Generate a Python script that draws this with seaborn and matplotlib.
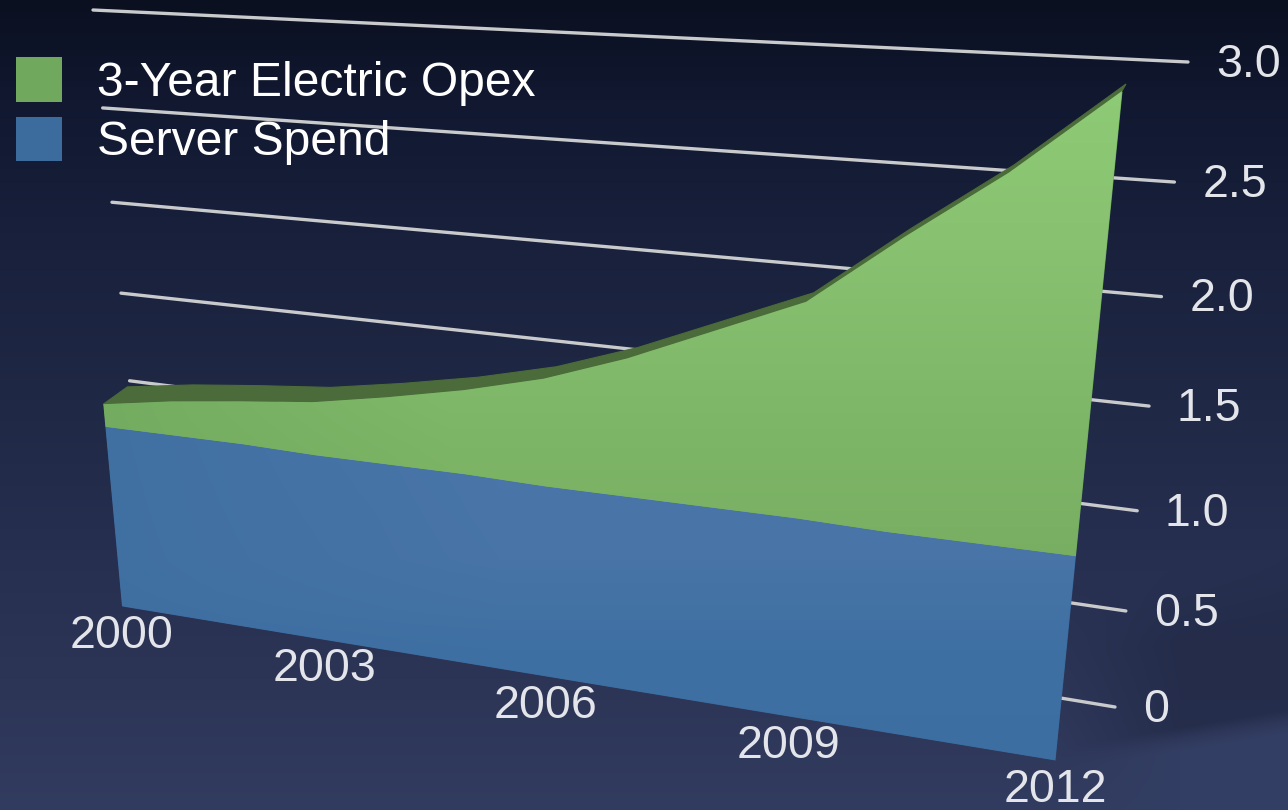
import numpy as np
import pandas as pd
import matplotlib
matplotlib.use("Agg")
import matplotlib.pyplot as plt
import matplotlib.colors as mcolors
import matplotlib.transforms as mtransforms
import seaborn as sns

# =====================
# Data
# =====================
years = [2000, 2001, 2002, 2003, 2004, 2005, 2006, 2007, 2008, 2009, 2010, 2011, 2012]
server_spend = [1.03, 1.03, 1.03, 1.02, 1.02, 1.02, 1.01, 1.01, 1.01, 1.01, 1.00, 1.00, 1.00]
electric_opex = [0.125, 0.185, 0.23, 0.28, 0.35, 0.43, 0.54, 0.68, 0.85, 1.02, 1.35, 1.65, 2.00]
value_ticks = [0, 0.5, 1.0, 1.5, 2.0, 2.5, 3.0]
value_labels = ["0", "0.5", "1.0", "1.5", "2.0", "2.5", "3.0"]
year_ticks = [2000, 2003, 2006, 2009, 2012]
year_labels = ["2000", "2003", "2006", "2009", "2012"]
series_names = ["3-Year Electric Opex", "Server Spend"]

W, H = 1288, 810


# Perspective: maps (year, value) onto image pixels, corners given as
# (2000, 0), (2012, 0), (2012, 3), (2000, 3)
class Perspective(mtransforms.Transform):
    input_dims = 2
    output_dims = 2
    is_affine = False
    has_inverse = False

    def __init__(self, corners):
        super().__init__()
        src = [(2000, 0), (2012, 0), (2012, 3), (2000, 3)]
        rows, rhs = [], []
        for (x, y), (u, v) in zip(src, corners):
            rows.append([x, y, 1, 0, 0, 0, -u * x, -u * y])
            rows.append([0, 0, 0, x, y, 1, -v * x, -v * y])
            rhs += [u, v]
        rows = np.array(rows, dtype=float)
        self.m = np.append(np.linalg.solve(rows, np.array(rhs, dtype=float)), 1).reshape(3, 3)

    def transform_non_affine(self, values):
        values = np.asarray(values, dtype=float)
        p = np.column_stack([values, np.ones(len(values))]) @ self.m.T
        return p[:, :2] / p[:, 2:]


front = Perspective([(122, 606), (1055, 760), (1122, 91), (70, 45)])
back = Perspective([(146, 588), (1055, 754), (1126, 84), (94, 27)])
wall = Perspective([(146, 547), (1115, 707), (1188, 62), (93, 10)])


def vertical_ramp(stops):
    ys = [s[0] for s in stops]
    cols = np.array([mcolors.to_rgb(s[1]) for s in stops])
    yy = np.arange(H) + 0.5
    return np.stack([np.interp(yy, ys, cols[:, i]) for i in range(3)], axis=-1)


def shade_left(ramp, colour, x_end):
    # ramp over the whole picture, pulled towards a flatter colour on the left
    img = np.repeat(ramp[:, None, :], W, axis=1)
    t = np.clip(1 - np.arange(W) / x_end, 0, 1)[None, :, None]
    return img * (1 - t) + np.array(mcolors.to_rgb(colour)) * t


# =====================
# Figure
# =====================
sns.set_theme(style="dark")
plt.rcParams["font.family"] = ["Liberation Sans", "DejaVu Sans"]

fig = plt.figure(figsize=(W / 100, H / 100), dpi=100)
ax = fig.add_axes([0, 0, 1, 1])
ax.set_axis_off()

# background, with the darker strip and lighter floor at lower right
bg = vertical_ramp([(0, "#0b1020"), (100, "#111830"), (250, "#19213d"), (400, "#1f2844"),
                    (550, "#262f50"), (700, "#2d3657"), (810, "#323c60")])
bg = np.repeat(bg[:, None, :], W, axis=1)
xx, yy = np.meshgrid(np.arange(W), np.arange(H))
edge = 760 - 0.17 * (xx - 1055)
fade = np.clip((xx - 1060) / 120, 0, 1)
dark = np.clip((yy - (edge - 170)) / 70, 0, 1) * np.clip((edge - yy) / 12, 0, 1) * fade
floor = np.clip((yy - edge) / 12, 0, 1) * fade
bg = bg * (1 - dark[..., None] * 0.75) + np.array(mcolors.to_rgb("#222a47")) * dark[..., None] * 0.75
bg = bg * (1 - floor[..., None]) + np.array(mcolors.to_rgb("#333e64")) * floor[..., None]
ax.imshow(bg, extent=(0, W, H, 0), aspect="auto", zorder=0)

# gridlines on the back wall
grid_df = pd.DataFrame(
    [(yr, v) for v in value_ticks for yr in (years[0], years[-1])],
    columns=["year", "level"],
)
sns.lineplot(data=grid_df, x="year", y="level", units="level", estimator=None,
             color="#c9cacc", linewidth=2.4, legend=False, ax=ax,
             transform=wall + ax.transData, zorder=1)

# value labels, just past the end of each gridline
for v, lab in zip(value_ticks, value_labels):
    ax.annotate(lab, xy=(years[-1], v), xycoords=wall + ax.transData,
                xytext=(20, -2), textcoords="offset points",
                ha="left", va="center", fontsize=33.5, color="#e3e5ea", zorder=6)

# top ribbon of the extruded area
total = np.array(server_spend) + np.array(electric_opex)
top = np.column_stack([years, total])
ribbon = np.vstack([front.transform(top), back.transform(top)[::-1]])
ax.fill(ribbon[:, 0], ribbon[:, 1], color="#4b6b3a", lw=0.8, zorder=2)

# stacked front face
polys = ax.stackplot(years, server_spend, electric_opex,
                     colors=["#3c6c9e", "#70a95e"], labels=series_names[::-1],
                     transform=front + ax.transData, zorder=3, linewidth=0)

# shading on the faces
blue_ramp = vertical_ramp([(420, "#4a76a9"), (560, "#4874a7"), (650, "#3f70a3"), (780, "#3d6ea1")])
green_ramp = vertical_ramp([(90, "#8ecb76"), (250, "#88c170"), (380, "#80b969"), (560, "#78ae62")])
blue_img = shade_left(blue_ramp, "#3e6ea0", 500)
green_img = shade_left(green_ramp, "#70a95e", 450)
for poly, img in zip(polys, [blue_img, green_img]):
    im = ax.imshow(img, extent=(0, W, H, 0), aspect="auto", zorder=4)
    im.set_clip_path(poly.get_paths()[0], transform=front + ax.transData)

# year labels under the front edge
for yr, lab in zip(year_ticks, year_labels):
    ax.annotate(lab, xy=(yr, 0), xycoords=front + ax.transData,
                xytext=(0, -21.5), textcoords="offset points",
                ha="center", va="center", fontsize=33.5, color="#e3e5ea", zorder=6)

ax.set_xlim(0, W)
ax.set_ylim(H, 0)

handles, labels = ax.get_legend_handles_labels()
leg = ax.legend(handles[::-1], labels[::-1], loc="upper left",
                bbox_to_anchor=(16 / W, 1 - 57 / H), frameon=False,
                fontsize=34.6, labelcolor="white", borderpad=0, borderaxespad=0,
                handlelength=0.96, handleheight=1.05, handletextpad=0.72, labelspacing=0.23)
leg.set_zorder(7)

fig.savefig("out.png", dpi=100)
